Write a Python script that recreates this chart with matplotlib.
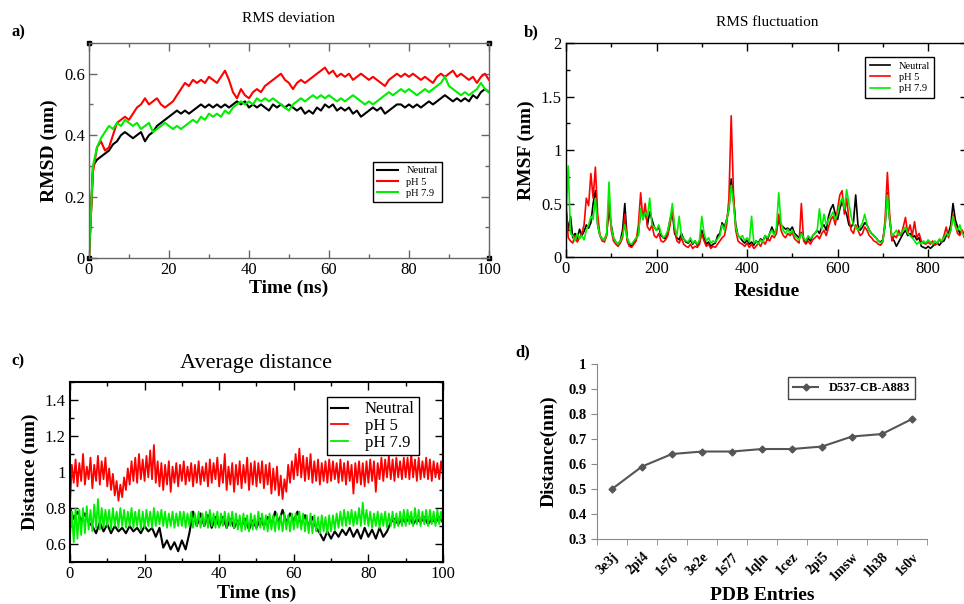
import numpy as np
import matplotlib
matplotlib.use("Agg")
import matplotlib.pyplot as plt
from matplotlib.ticker import MultipleLocator, FixedLocator

plt.rcParams["font.family"] = ["Liberation Serif", "DejaVu Serif"]

# ---------------------------------------------------------------- data
LABELS = ["Neutral", "pH 5", "pH 7.9"]
COLORS = ["black", "#ff0000", "#00ee00"]

# a) RMSD (nm), one value per ns, 0..100
rmsd_time = np.arange(0, 101)
rmsd_neutral = [
    0.00, 0.30, 0.32, 0.33, 0.34, 0.35, 0.37, 0.38, 0.40, 0.41,
    0.40, 0.39, 0.40, 0.41, 0.38, 0.40, 0.41, 0.43, 0.44, 0.45,
    0.46, 0.47, 0.48, 0.47, 0.48, 0.47, 0.48, 0.49, 0.50, 0.49,
    0.50, 0.49, 0.50, 0.49, 0.50, 0.49, 0.50, 0.51, 0.50, 0.51,
    0.49, 0.50, 0.49, 0.50, 0.49, 0.48, 0.50, 0.49, 0.50, 0.49,
    0.50, 0.49, 0.48, 0.49, 0.47, 0.48, 0.47, 0.49, 0.48, 0.50,
    0.49, 0.50, 0.48, 0.49, 0.48, 0.49, 0.47, 0.48, 0.46, 0.47,
    0.48, 0.49, 0.48, 0.49, 0.47, 0.48, 0.49, 0.50, 0.50, 0.49,
    0.50, 0.49, 0.50, 0.49, 0.50, 0.51, 0.50, 0.51, 0.52, 0.53,
    0.52, 0.51, 0.52, 0.51, 0.52, 0.51, 0.53, 0.52, 0.54, 0.55,
    0.54]
rmsd_ph5 = [
    0.00, 0.28, 0.36, 0.38, 0.35, 0.36, 0.40, 0.44, 0.45, 0.46,
    0.45, 0.47, 0.49, 0.50, 0.52, 0.50, 0.51, 0.52, 0.50, 0.49,
    0.50, 0.51, 0.53, 0.55, 0.57, 0.56, 0.58, 0.57, 0.58, 0.57,
    0.59, 0.58, 0.57, 0.59, 0.61, 0.58, 0.54, 0.52, 0.55, 0.53,
    0.52, 0.54, 0.55, 0.54, 0.56, 0.57, 0.58, 0.59, 0.60, 0.58,
    0.57, 0.55, 0.57, 0.58, 0.57, 0.58, 0.59, 0.60, 0.61, 0.62,
    0.60, 0.61, 0.59, 0.60, 0.59, 0.60, 0.58, 0.59, 0.60, 0.59,
    0.58, 0.59, 0.58, 0.57, 0.56, 0.58, 0.59, 0.60, 0.59, 0.60,
    0.59, 0.60, 0.59, 0.58, 0.59, 0.58, 0.57, 0.59, 0.60, 0.59,
    0.60, 0.61, 0.59, 0.60, 0.59, 0.58, 0.59, 0.57, 0.59, 0.60,
    0.58]
rmsd_ph79 = [
    0.00, 0.30, 0.36, 0.39, 0.41, 0.43, 0.42, 0.44, 0.43, 0.45,
    0.44, 0.43, 0.44, 0.42, 0.43, 0.44, 0.41, 0.42, 0.43, 0.44,
    0.43, 0.42, 0.43, 0.42, 0.43, 0.44, 0.45, 0.44, 0.46, 0.45,
    0.47, 0.46, 0.47, 0.46, 0.48, 0.47, 0.49, 0.50, 0.51, 0.50,
    0.51, 0.50, 0.52, 0.51, 0.52, 0.51, 0.52, 0.51, 0.50, 0.49,
    0.48, 0.50, 0.51, 0.52, 0.51, 0.52, 0.53, 0.52, 0.53, 0.52,
    0.53, 0.52, 0.51, 0.52, 0.51, 0.52, 0.53, 0.52, 0.51, 0.50,
    0.51, 0.50, 0.51, 0.52, 0.53, 0.54, 0.53, 0.54, 0.55, 0.54,
    0.55, 0.54, 0.53, 0.54, 0.55, 0.54, 0.55, 0.56, 0.57, 0.59,
    0.56, 0.55, 0.54, 0.53, 0.54, 0.53, 0.54, 0.55, 0.57, 0.55,
    0.54]

# b) RMSF (nm), every 5th residue, 0..885
rmsf_residue = np.arange(0, 890, 5)
rmsf_neutral = [
    0.45, 0.25, 0.38, 0.18, 0.22, 0.17, 0.26, 0.20, 0.24, 0.30,
    0.27, 0.32, 0.50, 0.62, 0.30, 0.20, 0.17, 0.16, 0.22, 0.45,
    0.30, 0.18, 0.14, 0.12, 0.15, 0.25, 0.50, 0.18, 0.12, 0.10,
    0.14, 0.17, 0.22, 0.45, 0.38, 0.44, 0.30, 0.42, 0.35, 0.28,
    0.25, 0.28, 0.20, 0.18, 0.17, 0.24, 0.35, 0.42, 0.22, 0.18,
    0.16, 0.22, 0.17, 0.14, 0.13, 0.16, 0.12, 0.15, 0.11, 0.14,
    0.25, 0.18, 0.12, 0.14, 0.10, 0.12, 0.13, 0.20, 0.22, 0.32,
    0.28, 0.35, 0.45, 0.73, 0.55, 0.30, 0.20, 0.18, 0.15, 0.13,
    0.16, 0.12, 0.14, 0.11, 0.15, 0.13, 0.17, 0.15, 0.20, 0.16,
    0.22, 0.28, 0.22, 0.25, 0.35, 0.30, 0.28, 0.26, 0.27, 0.25,
    0.28, 0.22, 0.20, 0.18, 0.23, 0.17, 0.13, 0.18, 0.15, 0.20,
    0.22, 0.25, 0.22, 0.28, 0.30, 0.25, 0.38, 0.45, 0.49, 0.40,
    0.35, 0.45, 0.52, 0.45, 0.40, 0.30, 0.28, 0.32, 0.58, 0.30,
    0.25, 0.28, 0.32, 0.30, 0.25, 0.22, 0.20, 0.18, 0.15, 0.14,
    0.16, 0.30, 0.60, 0.35, 0.18, 0.15, 0.10, 0.14, 0.18, 0.22,
    0.25, 0.20, 0.22, 0.18, 0.20, 0.16, 0.18, 0.10, 0.09, 0.08,
    0.10, 0.08, 0.10, 0.12, 0.13, 0.11, 0.14, 0.15, 0.20, 0.22,
    0.30, 0.50, 0.35, 0.28, 0.22, 0.25, 0.20, 0.18]
rmsf_ph5 = [
    0.50, 0.18, 0.15, 0.13, 0.20, 0.14, 0.18, 0.22, 0.30, 0.55,
    0.48, 0.78, 0.55, 0.84, 0.40, 0.20, 0.15, 0.14, 0.20, 0.55,
    0.25, 0.15, 0.12, 0.10, 0.13, 0.18, 0.40, 0.15, 0.10, 0.09,
    0.12, 0.15, 0.30, 0.60, 0.35, 0.50, 0.28, 0.25, 0.30, 0.20,
    0.18, 0.22, 0.15, 0.14, 0.16, 0.20, 0.30, 0.45, 0.25, 0.15,
    0.13, 0.18, 0.12, 0.10, 0.09, 0.12, 0.08, 0.10, 0.09, 0.12,
    0.22, 0.15, 0.10, 0.12, 0.08, 0.10, 0.09, 0.12, 0.15, 0.18,
    0.20, 0.30, 0.55, 1.32, 0.60, 0.25, 0.15, 0.13, 0.12, 0.10,
    0.13, 0.09, 0.12, 0.08, 0.10, 0.13, 0.10, 0.15, 0.12, 0.17,
    0.15, 0.20, 0.18, 0.22, 0.40, 0.25, 0.20, 0.18, 0.22, 0.20,
    0.23, 0.17, 0.15, 0.13, 0.50, 0.15, 0.12, 0.15, 0.12, 0.16,
    0.18, 0.20, 0.17, 0.22, 0.25, 0.20, 0.28, 0.35, 0.38, 0.30,
    0.45, 0.58, 0.62, 0.40, 0.55, 0.35, 0.25, 0.22, 0.30, 0.25,
    0.20, 0.22, 0.28, 0.25, 0.20, 0.18, 0.15, 0.14, 0.12, 0.11,
    0.14, 0.35, 0.79, 0.40, 0.15, 0.20, 0.18, 0.25, 0.20, 0.28,
    0.37, 0.22, 0.30, 0.20, 0.33, 0.18, 0.22, 0.15, 0.13, 0.12,
    0.14, 0.12, 0.15, 0.11, 0.13, 0.16, 0.14, 0.20, 0.28, 0.18,
    0.25, 0.40, 0.30, 0.22, 0.20, 0.25, 0.18, 0.16]
rmsf_ph79 = [
    0.35, 0.85, 0.22, 0.20, 0.15, 0.22, 0.17, 0.20, 0.16, 0.25,
    0.30, 0.38, 0.35, 0.55, 0.30, 0.20, 0.17, 0.16, 0.22, 0.70,
    0.28, 0.18, 0.14, 0.12, 0.15, 0.20, 0.30, 0.18, 0.13, 0.12,
    0.15, 0.18, 0.20, 0.45, 0.35, 0.42, 0.38, 0.55, 0.30, 0.28,
    0.25, 0.30, 0.22, 0.18, 0.20, 0.25, 0.35, 0.50, 0.28, 0.20,
    0.38, 0.20, 0.17, 0.15, 0.14, 0.18, 0.13, 0.15, 0.12, 0.16,
    0.38, 0.22, 0.15, 0.18, 0.13, 0.15, 0.14, 0.17, 0.20, 0.30,
    0.25, 0.35, 0.45, 0.67, 0.50, 0.28, 0.20, 0.18, 0.20, 0.15,
    0.18, 0.14, 0.38, 0.13, 0.15, 0.12, 0.16, 0.14, 0.20, 0.18,
    0.22, 0.25, 0.20, 0.28, 0.60, 0.32, 0.25, 0.22, 0.26, 0.22,
    0.25, 0.20, 0.18, 0.16, 0.22, 0.18, 0.15, 0.20, 0.17, 0.20,
    0.22, 0.25, 0.45, 0.26, 0.40, 0.30, 0.35, 0.38, 0.42, 0.35,
    0.40, 0.50, 0.55, 0.45, 0.63, 0.50, 0.38, 0.30, 0.28, 0.25,
    0.28, 0.32, 0.40, 0.30, 0.25, 0.22, 0.20, 0.18, 0.15, 0.13,
    0.15, 0.30, 0.58, 0.35, 0.20, 0.22, 0.25, 0.20, 0.22, 0.25,
    0.28, 0.22, 0.20, 0.18, 0.15, 0.12, 0.14, 0.12, 0.15, 0.13,
    0.16, 0.14, 0.12, 0.15, 0.13, 0.17, 0.15, 0.18, 0.22, 0.20,
    0.25, 0.38, 0.28, 0.25, 0.30, 0.22, 0.20, 0.25]

# c) average distance (nm)
dist_time_neutral = np.arange(0, 101)          # every 1 ns
dist_neutral = [
    0.80, 0.74, 0.78, 0.73, 0.77, 0.72, 0.70, 0.66, 0.72, 0.67,
    0.71, 0.66, 0.70, 0.67, 0.69, 0.66, 0.70, 0.67, 0.69, 0.66,
    0.70, 0.67, 0.69, 0.64, 0.69, 0.58, 0.62, 0.57, 0.61, 0.56,
    0.62, 0.57, 0.66, 0.78, 0.70, 0.77, 0.70, 0.76, 0.69, 0.75,
    0.70, 0.75, 0.69, 0.74, 0.69, 0.73, 0.70, 0.74, 0.68, 0.73,
    0.69, 0.74, 0.70, 0.75, 0.71, 0.78, 0.72, 0.79, 0.72, 0.77,
    0.73, 0.78, 0.71, 0.76, 0.70, 0.75, 0.69, 0.66, 0.62, 0.67,
    0.63, 0.67, 0.64, 0.68, 0.65, 0.69, 0.64, 0.68, 0.63, 0.69,
    0.64, 0.68, 0.63, 0.69, 0.64, 0.67, 0.72, 0.74, 0.71, 0.74,
    0.72, 0.75, 0.71, 0.74, 0.72, 0.75, 0.71, 0.74, 0.72, 0.75,
    0.72]
dist_time = np.arange(0, 100.5, 0.5)           # every 0.5 ns
dist_ph5 = [
    0.82, 1.04, 0.94, 1.07, 0.92, 1.05, 0.95, 1.10, 0.93, 1.03,
    0.96, 1.08, 0.91, 1.04, 0.95, 1.09, 0.93, 1.06, 0.96, 1.08,
    0.92, 1.02, 0.90, 0.99, 0.87, 0.95, 0.84, 0.93, 0.86, 0.97,
    0.90, 1.02, 0.93, 1.06, 0.95, 1.08, 0.94, 1.10, 0.96, 1.07,
    0.95, 1.09, 0.97, 1.12, 0.96, 1.15, 0.94, 1.06, 0.92, 1.05,
    0.90, 1.04, 0.93, 1.06, 0.89, 1.03, 0.94, 1.05, 0.92, 1.04,
    0.95, 1.06, 0.93, 1.03, 0.95, 1.05, 0.92, 1.04, 0.94, 1.06,
    0.93, 1.03, 0.95, 1.05, 0.92, 1.07, 0.94, 1.05, 0.96, 1.08,
    0.92, 1.04, 0.94, 1.10, 0.90, 1.03, 0.93, 1.05, 0.89, 1.04,
    0.93, 1.06, 0.91, 1.04, 0.94, 1.08, 0.90, 1.05, 0.93, 1.06,
    0.92, 1.05, 0.94, 1.06, 0.91, 1.04, 0.93, 1.05, 0.88, 1.02,
    0.90, 1.03, 0.87, 0.98, 0.85, 0.96, 0.89, 1.04, 0.94, 1.06,
    0.96, 1.10, 0.98, 1.13, 0.97, 1.09, 0.95, 1.08, 0.96, 1.10,
    0.94, 1.06, 0.95, 1.07, 0.93, 1.05, 0.95, 1.06, 0.94, 1.07,
    0.95, 1.06, 0.96, 1.05, 0.94, 1.07, 0.95, 1.05, 0.93, 1.06,
    0.95, 1.04, 0.88, 1.05, 0.94, 1.06, 0.93, 1.05, 0.92, 1.06,
    0.94, 1.07, 0.95, 1.06, 0.89, 1.05, 0.96, 1.08, 0.95, 1.07,
    0.97, 1.09, 0.96, 1.07, 0.95, 1.08, 0.97, 1.06, 0.96, 1.08,
    0.97, 1.08, 0.96, 1.10, 0.97, 1.07, 0.95, 1.08, 0.96, 1.06,
    0.97, 1.08, 0.96, 1.07, 0.95, 1.06, 0.97, 1.05, 0.96, 1.06,
    0.98]
dist_ph79 = [
    0.64, 0.78, 0.61, 0.80, 0.63, 0.79, 0.65, 0.80, 0.66, 0.81,
    0.68, 0.79, 0.67, 0.82, 0.69, 0.85, 0.68, 0.80, 0.69, 0.79,
    0.70, 0.79, 0.68, 0.80, 0.70, 0.78, 0.69, 0.80, 0.70, 0.79,
    0.69, 0.78, 0.70, 0.80, 0.69, 0.78, 0.70, 0.79, 0.68, 0.78,
    0.69, 0.79, 0.70, 0.78, 0.69, 0.80, 0.70, 0.78, 0.71, 0.79,
    0.70, 0.78, 0.69, 0.77, 0.70, 0.78, 0.69, 0.77, 0.70, 0.78,
    0.70, 0.78, 0.69, 0.77, 0.70, 0.78, 0.69, 0.77, 0.70, 0.78,
    0.69, 0.77, 0.70, 0.78, 0.69, 0.79, 0.70, 0.77, 0.69, 0.78,
    0.69, 0.77, 0.70, 0.78, 0.69, 0.77, 0.70, 0.78, 0.69, 0.77,
    0.68, 0.76, 0.67, 0.77, 0.68, 0.76, 0.67, 0.77, 0.68, 0.76,
    0.68, 0.78, 0.69, 0.77, 0.68, 0.76, 0.67, 0.77, 0.68, 0.76,
    0.67, 0.77, 0.68, 0.76, 0.67, 0.77, 0.68, 0.76, 0.67, 0.77,
    0.68, 0.77, 0.69, 0.78, 0.68, 0.77, 0.67, 0.76, 0.66, 0.77,
    0.66, 0.76, 0.67, 0.75, 0.66, 0.76, 0.67, 0.75, 0.66, 0.76,
    0.67, 0.76, 0.68, 0.77, 0.69, 0.78, 0.70, 0.79, 0.70, 0.78,
    0.71, 0.79, 0.70, 0.78, 0.71, 0.80, 0.70, 0.83, 0.71, 0.79,
    0.70, 0.78, 0.69, 0.77, 0.70, 0.78, 0.69, 0.77, 0.70, 0.78,
    0.69, 0.77, 0.70, 0.78, 0.69, 0.77, 0.70, 0.78, 0.70, 0.79,
    0.70, 0.79, 0.71, 0.78, 0.70, 0.80, 0.71, 0.79, 0.70, 0.78,
    0.71, 0.79, 0.70, 0.79, 0.71, 0.78, 0.70, 0.79, 0.71, 0.78,
    0.72]

# d) distance per PDB entry
pdb_entries = ["3e3j", "2pi4", "1s76", "3e2e", "1s77", "1qln",
               "1cez", "2pi5", "1msw", "1h38", "1s0v"]
pdb_distance = [0.50, 0.59, 0.64, 0.65, 0.65, 0.66, 0.66, 0.67, 0.71, 0.72, 0.78]


def grace_axes(ax, spine_color="black"):
    """Estilo xmgrace: ticks para dentro nos 4 lados."""
    ax.tick_params(which="both", direction="in", top=True, right=True,
                   labelsize=12, pad=3, color=spine_color)
    ax.tick_params(which="major", length=6, width=1)
    ax.tick_params(which="minor", length=3, width=1)
    for s in ax.spines.values():
        s.set_color(spine_color)
        s.set_linewidth(1.0)


def grace_legend(ax, fontsize, loc, **kw):
    opts = dict(fancybox=False, framealpha=1, edgecolor="black",
                handlelength=2.0, borderpad=0.4, labelspacing=0.2)
    opts.update(kw)
    leg = ax.legend(fontsize=fontsize, loc=loc, **opts)
    leg.get_frame().set_linewidth(1.0)
    return leg


fig = plt.figure(figsize=(9.64, 6.04), dpi=100)

# ---------------------------------------------------------------- a)
ax = fig.add_axes([0.0923, 0.5728, 0.4149, 0.3560])
for y, lab, c in zip([rmsd_neutral, rmsd_ph5, rmsd_ph79], LABELS, COLORS):
    ax.plot(rmsd_time, y, color=c, lw=1.5, label=lab)
ax.set_xlim(0, 100)
ax.set_ylim(0, 0.7)
ax.xaxis.set_major_locator(MultipleLocator(20))
ax.xaxis.set_minor_locator(MultipleLocator(10))
ax.yaxis.set_major_locator(FixedLocator([0, 0.2, 0.4, 0.6]))
ax.yaxis.set_minor_locator(MultipleLocator(0.1))
ax.set_yticklabels(["0", "0.2", "0.4", "0.6"])
grace_axes(ax, "#666666")
ax.plot([0, 1, 0, 1], [0, 0, 1, 1], "s", color="black", ms=3.5,
        transform=ax.transAxes, clip_on=False)
ax.set_xlabel("Time (ns)", fontsize=14, fontweight="bold", labelpad=1)
ax.set_ylabel("RMSD (nm)", fontsize=14, fontweight="bold", labelpad=4)
ax.set_title("RMS deviation", fontsize=11, pad=15)
grace_legend(ax, 7.5, (0.71, 0.26))
fig.text(0.012, 0.94, "a)", fontsize=12, fontweight="bold")

# ---------------------------------------------------------------- b)
ax = fig.add_axes([0.5871, 0.5745, 0.4170, 0.3543])
for y, lab, c in zip([rmsf_neutral, rmsf_ph5, rmsf_ph79], LABELS, COLORS):
    ax.plot(rmsf_residue, y, color=c, lw=1.2, label=lab)
ax.set_xlim(0, 888)
ax.set_ylim(0, 2)
ax.xaxis.set_major_locator(MultipleLocator(200))
ax.xaxis.set_minor_locator(MultipleLocator(100))
ax.yaxis.set_major_locator(FixedLocator([0, 0.5, 1, 1.5, 2]))
ax.yaxis.set_minor_locator(MultipleLocator(0.25))
ax.set_yticklabels(["0", "0.5", "1", "1.5", "2"])
grace_axes(ax)
ax.set_xlabel("Residue", fontsize=14, fontweight="bold", labelpad=4)
ax.set_ylabel("RMSF (nm)", fontsize=14, fontweight="bold", labelpad=4)
ax.set_title("RMS fluctuation", fontsize=11, pad=12)
grace_legend(ax, 7.5, (0.745, 0.745))
fig.text(0.543, 0.94, "b)", fontsize=12, fontweight="bold")

# ---------------------------------------------------------------- c)
ax = fig.add_axes([0.0726, 0.0695, 0.3869, 0.2980])
ax.plot(dist_time_neutral, dist_neutral, color=COLORS[0], lw=1.5, label=LABELS[0])
ax.plot(dist_time, dist_ph5, color=COLORS[1], lw=1.3, label=LABELS[1])
ax.plot(dist_time, dist_ph79, color=COLORS[2], lw=1.3, label=LABELS[2])
ax.set_xlim(0, 100)
ax.set_ylim(0.5, 1.5)
ax.xaxis.set_major_locator(MultipleLocator(20))
ax.xaxis.set_minor_locator(MultipleLocator(10))
ax.yaxis.set_major_locator(FixedLocator([0.6, 0.8, 1.0, 1.2, 1.4]))
ax.yaxis.set_minor_locator(MultipleLocator(0.1))
ax.set_yticklabels(["0.6", "0.8", "1", "1.2", "1.4"])
grace_axes(ax)
for s in ax.spines.values():
    s.set_linewidth(1.5)
ax.set_xlabel("Time (ns)", fontsize=14, fontweight="bold", labelpad=2)
ax.set_ylabel("Distance (nm)", fontsize=14, fontweight="bold", labelpad=4)
ax.set_title("Average distance", fontsize=16, pad=10)
grace_legend(ax, 12, "upper right", bbox_to_anchor=(0.957, 0.962),
             handlelength=1.0, labelspacing=0.05, borderpad=0.25,
             handletextpad=1.0)
fig.text(0.012, 0.395, "c)", fontsize=12, fontweight="bold")

# ---------------------------------------------------------------- d)
ax = fig.add_axes([0.6193, 0.1076, 0.3423, 0.2897])
xpos = np.arange(len(pdb_entries))
ax.plot(xpos, pdb_distance, color="#555555", lw=1.5, marker="D", ms=3.5,
        label="D537-CB-A883")
ax.set_xlim(-0.5, len(pdb_entries) - 0.5)
ax.set_ylim(0.3, 1.0)
ax.set_yticks(np.round(np.arange(0.3, 1.01, 0.1), 1))
ax.set_yticklabels(["0.3", "0.4", "0.5", "0.6", "0.7", "0.8", "0.9", "1"])
ax.set_xticks(xpos)
ax.set_xticklabels(pdb_entries, rotation=45, ha="right", rotation_mode="anchor",
                   fontweight="bold", fontsize=10)
ax.set_xticks(np.arange(-0.5, len(pdb_entries)), minor=True)
ax.tick_params(axis="x", which="major", length=0, pad=8)
ax.tick_params(axis="x", which="minor", length=4, color="#888888")
ax.tick_params(axis="y", length=4, color="#888888", labelsize=10.5)
for lab in ax.get_yticklabels():
    lab.set_fontweight("bold")
for s in ("top", "right"):
    ax.spines[s].set_visible(False)
for s in ("left", "bottom"):
    ax.spines[s].set_color("#888888")
ax.set_xlabel("PDB Entries", fontsize=14, fontweight="bold", labelpad=3)
ax.set_ylabel("Distance(nm)", fontsize=14, fontweight="bold", labelpad=8)
leg = ax.legend(loc=(0.58, 0.80), fancybox=False, framealpha=1,
                edgecolor="#444444", handlelength=2.0,
                prop={"weight": "bold", "size": 9})
fig.text(0.535, 0.41, "d)", fontsize=12, fontweight="bold")

fig.savefig("out.png", dpi=100)
